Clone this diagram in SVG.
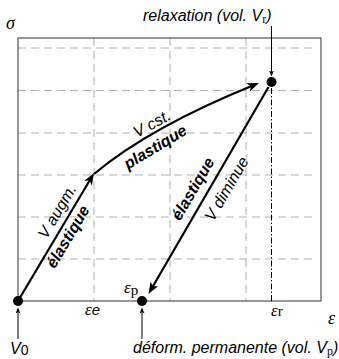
<svg xmlns="http://www.w3.org/2000/svg" width="339" height="359" viewBox="0 0 339 359">
<style>
.grid{stroke:#b0b0b0;stroke-width:1;stroke-dasharray:8,5;fill:none}
.frame{stroke:#444;stroke-width:1.1;fill:none}
.main{stroke:#000;stroke-width:2.2;fill:none;marker-end:url(#ah)}
.thin{stroke:#000;stroke-width:1;fill:none;marker-end:url(#sa)}
.dd{stroke:#000;stroke-width:1;stroke-dasharray:6,2,1.5,2;fill:none}
.dot{fill:#000}
.sans{font-family:"Liberation Sans",Arial,sans-serif;font-style:italic;fill:#000}
.lbl{font-family:"Liberation Sans",Arial,sans-serif;font-style:italic;font-size:16px;fill:#000;text-anchor:middle}
.bold{font-weight:bold}
.greek{font-family:"Liberation Serif","DejaVu Serif",serif;font-style:italic;fill:#000}
.rom{font-family:"Liberation Serif","DejaVu Serif",serif;font-style:normal}
</style>
<defs>
<marker id="ah" markerUnits="userSpaceOnUse" markerWidth="12" markerHeight="9" viewBox="0 0 12 9" refX="8" refY="4.5" orient="auto"><path d="M0,0 L12,4.5 L0,9 L3.5,4.5 z" fill="#000"/></marker>
<marker id="sa" markerUnits="userSpaceOnUse" markerWidth="6" markerHeight="5" viewBox="0 0 6 5" refX="4.5" refY="2.5" orient="auto"><path d="M0,0 L6,2.5 L0,5 L1.5,2.5 z" fill="#000"/></marker>
</defs>
<g id="grid">
<path class="grid" d="M18,48H315M18,90.5H315M18,133H315M18,175H315M18,217H315M18,259H315"/>
<path class="grid" d="M94,38V301M170,38V301M246,38V301"/>
<rect class="frame" x="18" y="38" width="303" height="263"/>
<path class="dd" d="M271.5,88V301"/>
</g>
<g id="connectors">
<path id="c-load" class="main" d="M18,301 L92,176.5"/>
<path id="c-plast" class="main" d="M94,174 Q150,127 255.3,84.5"/>
<path id="c-unload" class="main" d="M268.5,87 L150.5,290.5"/>
<path class="thin" d="M271.5,26V75"/>
<path class="thin" d="M18,339V309"/>
<path class="thin" d="M142,339V309"/>
</g>
<g id="node-V0"><circle class="dot" cx="18" cy="301" r="5"/><text class="sans" x="10" y="354" font-size="16">V<tspan font-style="normal" font-size="14" dy="1">0</tspan></text></g>
<g id="node-relax"><circle class="dot" cx="271.5" cy="82" r="5"/><text class="sans" x="143" y="21" font-size="16">relaxation (vol. V<tspan class="rom" font-size="12" dy="2">r</tspan><tspan dy="-2">)</tspan></text></g>
<g id="node-perm"><circle class="dot" cx="142" cy="301" r="5"/><text class="sans" x="133" y="353" font-size="16">déform. permanente (vol. V<tspan class="rom" font-size="12" dy="2">p</tspan><tspan dy="-2">)</tspan></text></g>
<g id="axes-labels">
<text class="greek" x="6" y="29" font-size="18">σ</text>
<text class="greek" x="328" y="324" font-size="18">ε</text>
<text class="greek" x="85" y="315" font-size="17">ε<tspan class="sans" font-size="15">e</tspan></text>
<text class="greek" x="124" y="293" font-size="17">ε<tspan class="rom" font-size="15" dy="2">p</tspan></text>
<text class="greek" x="271" y="316" font-size="17">ε<tspan class="rom" font-size="15">r</tspan></text>
</g>
<g id="path-labels">
<text class="lbl" transform="translate(57.5,211.5) rotate(-59.3)" y="5">V augm.</text>
<text class="lbl bold" transform="translate(69,237.5) rotate(-59.3)" y="4">élastique</text>
<text class="lbl" transform="translate(152,124) rotate(-29)" y="5">V cst.</text>
<text class="lbl bold" transform="translate(156.5,149) rotate(-31)" y="3">plastique</text>
<text class="lbl bold" transform="translate(194,189.5) rotate(-59.7)" y="4">élastique</text>
<text class="lbl" transform="translate(227,189) rotate(-59.7)" y="5">V diminue</text>
</g>
</svg>
